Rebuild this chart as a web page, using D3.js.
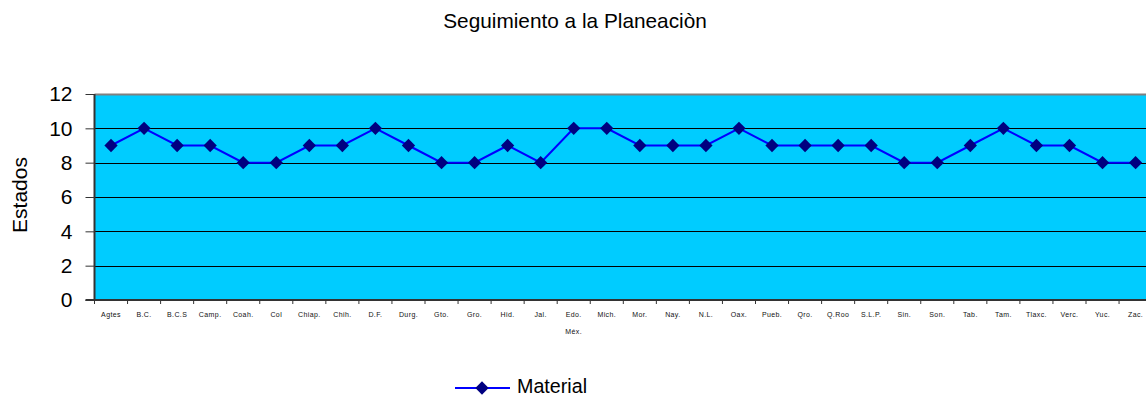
<!DOCTYPE html>
<html>
<head>
<meta charset="utf-8">
<script src="https://cdn.jsdelivr.net/npm/d3@7"></script>
<style>
  html, body { margin: 0; padding: 0; background: #fff; }
  svg { display: block; font-family: "Liberation Sans", Arial, sans-serif; }
</style>
</head>
<body>
<svg id="chart" width="1146" height="397"></svg>
<script>
// States (abbreviations) along the x axis
const estados = ["Agtes", "B.C.", "B.C.S", "Camp.", "Coah.", "Col", "Chiap.", "Chih.", "D.F.", "Durg.",
  "Gto.", "Gro.", "Hid.", "Jal.", "Edo.\nMéx.", "Mich.", "Mor.", "Nay.", "N.L.", "Oax.", "Pueb.",
  "Qro.", "Q.Roo", "S.L.P.", "Sin.", "Son.", "Tab.", "Tam.", "Tlaxc.", "Verc.", "Yuc.", "Zac."];
// Series "Material"
const material = [9, 10, 9, 9, 8, 8, 9, 9, 10, 9, 8, 8, 9, 8, 10, 10, 9, 9, 9, 10, 9, 9, 9, 9, 8, 8, 9, 10, 9, 9, 8, 8];
const yTicks = [0, 2, 4, 6, 8, 10, 12];
const titulo = "Seguimiento a la Planeaciòn";
const tituloY = "Estados";
const serie = "Material";

const svg = d3.select("#chart");
const plot = { left: 94.5, top: 94, bottom: 300 };
const step = 33.05;
plot.right = plot.left + step * estados.length;

const x = d3.scaleBand().domain(estados).range([plot.left, plot.right]).paddingInner(0).paddingOuter(0);
const y = d3.scaleLinear().domain([0, 12]).range([plot.bottom, plot.top]);

// plot background
svg.append("rect")
  .attr("x", plot.left).attr("y", plot.top)
  .attr("width", plot.right - plot.left).attr("height", plot.bottom - plot.top)
  .attr("fill", "#00CCFF");

// horizontal gridlines
svg.append("g").selectAll("line").data(yTicks.filter(d => d > 0)).join("line")
  .attr("x1", plot.left).attr("x2", plot.right)
  .attr("y1", d => Math.round(y(d)) + 0.5).attr("y2", d => Math.round(y(d)) + 0.5)
  .attr("stroke", d => d === 12 ? "#808080" : "#000")
  .attr("stroke-width", d => d === 12 ? 2 : 1);

// y axis
const yAxis = svg.append("g").attr("transform", `translate(${plot.left},0)`)
  .call(d3.axisLeft(y).tickValues(yTicks).tickSize(9).tickPadding(13));
yAxis.select(".domain").attr("stroke", "#333").attr("stroke-width", 2).attr("d", `M0,${plot.top}V${plot.bottom}`);
yAxis.selectAll(".tick line").attr("stroke", "#333");
yAxis.selectAll(".tick text").attr("font-size", 21).attr("fill", "#000")
  .attr("font-family", "Liberation Sans, Arial, sans-serif");

// x axis
const xAxis = svg.append("g").attr("transform", `translate(0,${plot.bottom})`)
  .call(d3.axisBottom(x).tickSize(0).tickFormat(""));
xAxis.select(".domain").attr("stroke", "#333").attr("stroke-width", 2)
  .attr("d", `M${plot.left - 9},0H${plot.right}`);
// tick marks at category boundaries
svg.append("g").selectAll("line").data(estados).join("line")
  .attr("x1", d => x(d)).attr("x2", d => x(d))
  .attr("y1", plot.bottom).attr("y2", plot.bottom + 4)
  .attr("stroke", "#333");
// category labels
const labels = svg.append("g").selectAll("text").data(estados).join("text")
  .attr("x", d => x(d) + x.bandwidth() / 2)
  .attr("y", plot.bottom + 17)
  .attr("text-anchor", "middle")
  .attr("font-size", 7)
  .attr("letter-spacing", 0.4)
  .attr("fill", "#111");
labels.each(function(d) {
  const parts = d.split("\n");
  d3.select(this).selectAll("tspan").data(parts).join("tspan")
    .attr("x", x(d) + x.bandwidth() / 2)
    .attr("dy", (p, i) => i === 0 ? 0 : 17)
    .text(p => p);
});

// line
const line = d3.line()
  .x((d, i) => x(estados[i]) + x.bandwidth() / 2)
  .y(d => y(d));
svg.append("path").datum(material)
  .attr("d", line).attr("fill", "none")
  .attr("stroke", "#0000FF").attr("stroke-width", 2);

// diamond markers
const diamond = d3.symbol().type(d3.symbolDiamond2).size(112);
svg.append("g").selectAll("path").data(material).join("path")
  .attr("transform", (d, i) => `translate(${x(estados[i]) + x.bandwidth() / 2},${y(d)})`)
  .attr("d", diamond)
  .attr("fill", "#000080");

// title
svg.append("text")
  .attr("x", 575).attr("y", 28)
  .attr("text-anchor", "middle").attr("font-size", 20.8).attr("fill", "#000")
  .text(titulo);

// y axis title
svg.append("text")
  .attr("transform", `translate(27,${(plot.top + plot.bottom) / 2 - 2}) rotate(-90)`)
  .attr("text-anchor", "middle").attr("font-size", 21).attr("fill", "#000")
  .text(tituloY);

// legend
const lg = svg.append("g").attr("transform", "translate(455,388)");
lg.append("line").attr("x1", 0).attr("x2", 55).attr("y1", 0).attr("y2", 0)
  .attr("stroke", "#0000FF").attr("stroke-width", 2);
lg.append("path").attr("transform", "translate(27,0)").attr("d", diamond).attr("fill", "#000080");
lg.append("text").attr("x", 62).attr("y", 5).attr("font-size", 19.7).attr("fill", "#000").text(serie);
</script>
</body>
</html>
